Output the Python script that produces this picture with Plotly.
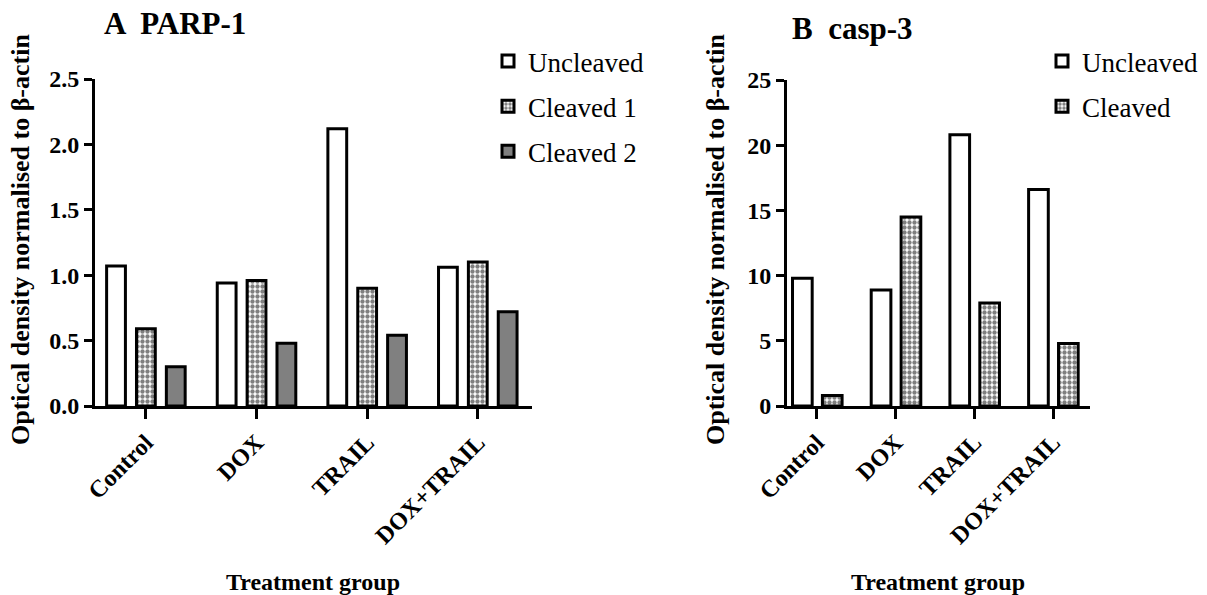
import plotly.graph_objects as go

groups = ["Control", "DOX", "TRAIL", "DOX+TRAIL"]

# Panel A: PARP-1
parp_uncleaved = [1.07, 0.94, 2.12, 1.06]
parp_cleaved1 = [0.59, 0.96, 0.90, 1.10]
parp_cleaved2 = [0.30, 0.48, 0.54, 0.72]

# Panel B: casp-3
casp_uncleaved = [9.8, 8.9, 20.8, 16.6]
casp_cleaved = [0.8, 14.5, 7.9, 4.8]

FONT = "Liberation Serif"
W, H = 1207, 595

def px_x(p):
    return p / W

def px_y(p):
    return 1 - p / H

fig = go.Figure()

line = dict(color="black", width=3)
checker = dict(shape=".", fgcolor="black", bgcolor="white", size=5, solidity=0.6)

# Left panel bars
wA = 0.17
for name, vals, c, pat, off in [
    ("Uncleaved", parp_uncleaved, "white", None, -0.27),
    ("Cleaved 1", parp_cleaved1, "white", checker, 0.0),
    ("Cleaved 2", parp_cleaved2, "#808080", None, 0.27),
]:
    marker = dict(color=c, line=line)
    if pat:
        marker["pattern"] = pat
    fig.add_trace(go.Bar(x=groups, y=vals, name=name, marker=marker,
                         width=wA, offset=off - wA / 2,
                         xaxis="x", yaxis="y", legend="legend",
                         legendgroup="A" + name))

# Right panel bars
wB = 0.25
for name, vals, c, pat, off in [
    ("Uncleaved", casp_uncleaved, "white", None, -0.185),
    ("Cleaved", casp_cleaved, "white", checker, 0.195),
]:
    marker = dict(color=c, line=line)
    if pat:
        marker["pattern"] = pat
    fig.add_trace(go.Bar(x=groups, y=vals, name=name, marker=marker,
                         width=wB, offset=off - wB / 2,
                         xaxis="x2", yaxis="y2", legend="legend2",
                         legendgroup="B" + name))

tickfont = dict(family=FONT, size=24, color="black", weight="bold")

common_x = dict(type="category", showline=True, linecolor="black", linewidth=3,
                ticks="outside", ticklen=10, tickwidth=3, tickcolor="black",
                tickangle=-45, tickfont=tickfont, showgrid=False, zeroline=False,
                automargin=False)
common_y = dict(showline=True, linecolor="black", linewidth=3,
                ticks="outside", ticklen=8, tickwidth=3, tickcolor="black",
                tickfont=tickfont, showgrid=False, zeroline=False,
                automargin=False)

legfont = dict(family=FONT, size=27, color="black")

fig.update_layout(
    width=W, height=H,
    margin=dict(l=0, r=0, t=0, b=0, pad=0, autoexpand=False),
    font=dict(family=FONT, color="black"),
    paper_bgcolor="white", plot_bgcolor="white",
    barmode="overlay",
    xaxis=dict(common_x, domain=[px_x(95), px_x(532)], range=[-0.46, 3.49], anchor="y"),
    yaxis=dict(common_y, domain=[px_y(406), px_y(79)], range=[0, 2.5],
               tickvals=[0, 0.5, 1.0, 1.5, 2.0, 2.5],
               ticktext=["0.0", "0.5", "1.0", "1.5", "2.0", "2.5"], anchor="x"),
    xaxis2=dict(common_x, domain=[px_x(787), px_x(1090)], range=[-0.38, 3.47], anchor="y2"),
    yaxis2=dict(common_y, domain=[px_y(406), px_y(80)], range=[0, 25],
                tickvals=[0, 5, 10, 15, 20, 25], anchor="x2"),
    legend=dict(x=px_x(488), y=px_y(37), xanchor="left", yanchor="top",
                font=legfont, tracegroupgap=7, bgcolor="rgba(0,0,0,0)"),
    legend2=dict(x=px_x(1042), y=px_y(37), xanchor="left", yanchor="top",
                 font=legfont, tracegroupgap=7, bgcolor="rgba(0,0,0,0)"),
    showlegend=True,
)

ann_font = dict(family=FONT, color="black", weight="bold")
annotations = [
    dict(text="A  PARP-1", x=px_x(175), y=px_y(24), xref="paper", yref="paper",
         xanchor="center", yanchor="middle",
         showarrow=False, font=dict(ann_font, size=31)),
    dict(text="B  casp-3", x=px_x(852), y=px_y(28), xref="paper", yref="paper",
         xanchor="center", yanchor="middle",
         showarrow=False, font=dict(ann_font, size=31)),
    dict(text="Optical density normalised to β-actin", x=px_x(20), y=px_y(240),
         xref="paper", yref="paper", showarrow=False, textangle=-90,
         xanchor="center", yanchor="middle",
         font=dict(ann_font, size=26)),
    dict(text="Optical density normalised to β-actin", x=px_x(715), y=px_y(240),
         xref="paper", yref="paper", showarrow=False, textangle=-90,
         xanchor="center", yanchor="middle",
         font=dict(ann_font, size=26)),
    dict(text="Treatment group", x=px_x(313), y=px_y(582), xref="paper", yref="paper",
         xanchor="center", yanchor="middle",
         showarrow=False, font=dict(ann_font, size=24)),
    dict(text="Treatment group", x=px_x(938), y=px_y(582), xref="paper", yref="paper",
         xanchor="center", yanchor="middle",
         showarrow=False, font=dict(ann_font, size=24)),
]
fig.update_layout(annotations=annotations)

fig.write_html("out.html")
